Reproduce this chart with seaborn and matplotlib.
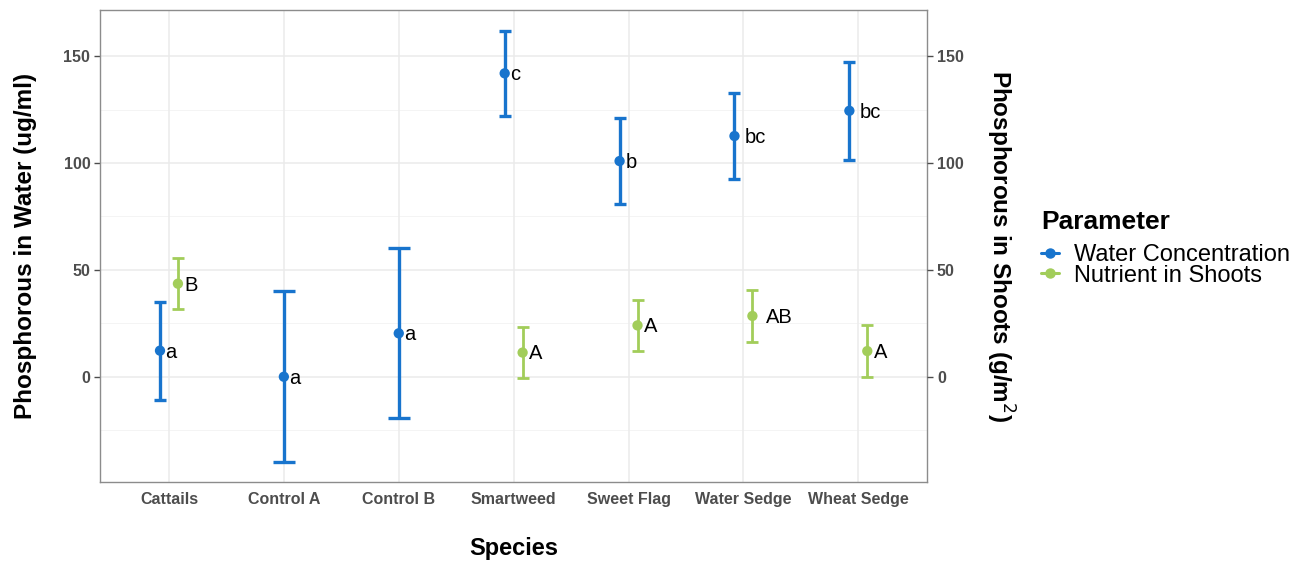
import matplotlib
matplotlib.use('Agg')
import matplotlib.pyplot as plt
from matplotlib.lines import Line2D
import seaborn as sns
import pandas as pd

# Data
species = ['Cattails', 'Control A', 'Control B', 'Smartweed', 'Sweet Flag', 'Water Sedge', 'Wheat Sedge']

water_species = ['Cattails', 'Control A', 'Control B', 'Smartweed', 'Sweet Flag', 'Water Sedge', 'Wheat Sedge']
water_mean = [12.3, 0.1, 20.4, 141.9, 100.9, 112.6, 124.4]
water_err = [22.9, 40.0, 39.8, 19.9, 19.9, 20.0, 22.9]
water_letters = ['a', 'a', 'a', 'c', 'b', 'bc', 'bc']

shoot_species = ['Cattails', 'Smartweed', 'Sweet Flag', 'Water Sedge', 'Wheat Sedge']
shoot_mean = [43.6, 11.4, 24.1, 28.5, 12.1]
shoot_err = [12.0, 11.8, 11.9, 12.0, 12.0]
shoot_letters = ['B', 'A', 'A', 'AB', 'A']

params = ['Water Concentration', 'Nutrient in Shoots']
colors = {'Water Concentration': '#1874CD', 'Nutrient in Shoots': '#A2CD5A'}

yticks = [0, 50, 100, 150]
minor_yticks = [-25, 25, 75, 125]


def main():
    water = pd.DataFrame({'species': water_species, 'mean': water_mean,
                          'err': water_err, 'letter': water_letters})
    water['Parameter'] = params[0]
    shoot = pd.DataFrame({'species': shoot_species, 'mean': shoot_mean,
                          'err': shoot_err, 'letter': shoot_letters})
    shoot['Parameter'] = params[1]
    df = pd.concat([water, shoot], ignore_index=True)

    # dodge only where both parameters exist
    counts = df['species'].value_counts()
    dodge = 0.078
    pos = []
    for _, row in df.iterrows():
        base = species.index(row['species'])
        if counts[row['species']] > 1:
            base += -dodge if row['Parameter'] == params[0] else dodge
        pos.append(base)
    df['x'] = pos
    df['single'] = df['species'].map(counts) == 1

    sns.set_style('white')
    plt.rcParams['font.family'] = ['Liberation Sans', 'DejaVu Sans']

    fig = plt.figure(figsize=(13.04, 5.62), dpi=100)
    ax = fig.add_axes([0.0767, 0.1423, 0.6344, 0.8399])

    # grid like theme_bw
    for y in yticks:
        ax.axhline(y, color='#EBEBEB', lw=1.1, zorder=0)
    for y in minor_yticks:
        ax.axhline(y, color='#F2F2F2', lw=0.6, zorder=0)
    for i in range(len(species)):
        ax.axvline(i, color='#EBEBEB', lw=1.1, zorder=0)

    for _, row in df.iterrows():
        c = colors[row['Parameter']]
        cap = 8.1 if row['single'] else 4.6
        lw = 2.4 if row['Parameter'] == params[0] else 2.0
        ax.errorbar(row['x'], row['mean'], yerr=row['err'], fmt='none',
                    ecolor=c, elinewidth=lw, capsize=cap, capthick=lw, zorder=2)

    sns.scatterplot(data=df, x='x', y='mean', hue='Parameter', palette=colors,
                    s=55, edgecolor='none', legend=False, ax=ax, zorder=3)

    # letters: left edge shifted by half the text width (hjust = -0.5)
    fig.canvas.draw()
    renderer = fig.canvas.get_renderer()
    for _, row in df.iterrows():
        t = ax.text(row['x'], row['mean'], row['letter'], ha='left', va='center',
                    fontsize=14.5, color='black', zorder=4)
        w = t.get_window_extent(renderer).width * 72 / fig.dpi
        t.remove()
        ax.annotate(row['letter'], (row['x'], row['mean']), xytext=(w * 0.5, -1),
                    textcoords='offset points', ha='left', va='center',
                    fontsize=14.5, color='black', zorder=4)

    ax.set_xlim(-0.6, len(species) - 0.4)
    ax.set_ylim(-49.1, 171.5)
    ax.set_xticks(range(len(species)))
    ax.set_xticklabels(species)
    ax.set_yticks(yticks)
    for sp in ax.spines.values():
        sp.set_color('#8C8C8C')
        sp.set_linewidth(1.0)
    ax.tick_params(axis='both', length=4, width=1, color='#4D4D4D',
                   labelcolor='#4D4D4D', labelsize=11.5, pad=3)
    for lab in ax.get_xticklabels() + ax.get_yticklabels():
        lab.set_fontweight('bold')

    ax.set_xlabel('Species', fontsize=17, fontweight='bold', labelpad=22, color='black')
    ax.set_ylabel('Phosphorous in Water (ug/ml)', fontsize=17.5, fontweight='bold',
                  labelpad=19, color='black')

    ax2 = ax.twinx()
    ax2.set_ylim(ax.get_ylim())
    ax2.set_yticks(yticks)
    ax2.tick_params(axis='y', length=4, width=1, color='#4D4D4D',
                    labelcolor='#4D4D4D', labelsize=11.5, pad=3)
    for lab in ax2.get_yticklabels():
        lab.set_fontweight('bold')
    for sp in ax2.spines.values():
        sp.set_visible(False)
    ax2.set_ylabel('Phosphorous in Shoots (g/m$^2$)', fontsize=17.5, fontweight='bold',
                   rotation=270, labelpad=38, color='black')

    handles = [Line2D([0], [0], color=colors[p], marker='o', markersize=6.5, lw=2.2)
               for p in params]
    leg = fig.legend(handles, params, loc='upper left', bbox_to_anchor=(0.7914, 0.643),
                     frameon=False, fontsize=17, title='Parameter',
                     handlelength=0.76, handletextpad=0.62, labelspacing=-0.05,
                     borderaxespad=0)
    leg.get_title().set_fontsize(19)
    leg.get_title().set_fontweight('bold')
    leg.get_title().set_color('black')
    for t in leg.get_texts():
        t.set_color('black')
    leg._legend_box.align = 'left'
    leg._legend_box.sep = 7

    fig.savefig('out.png', dpi=100)


if __name__ == '__main__':
    main()
